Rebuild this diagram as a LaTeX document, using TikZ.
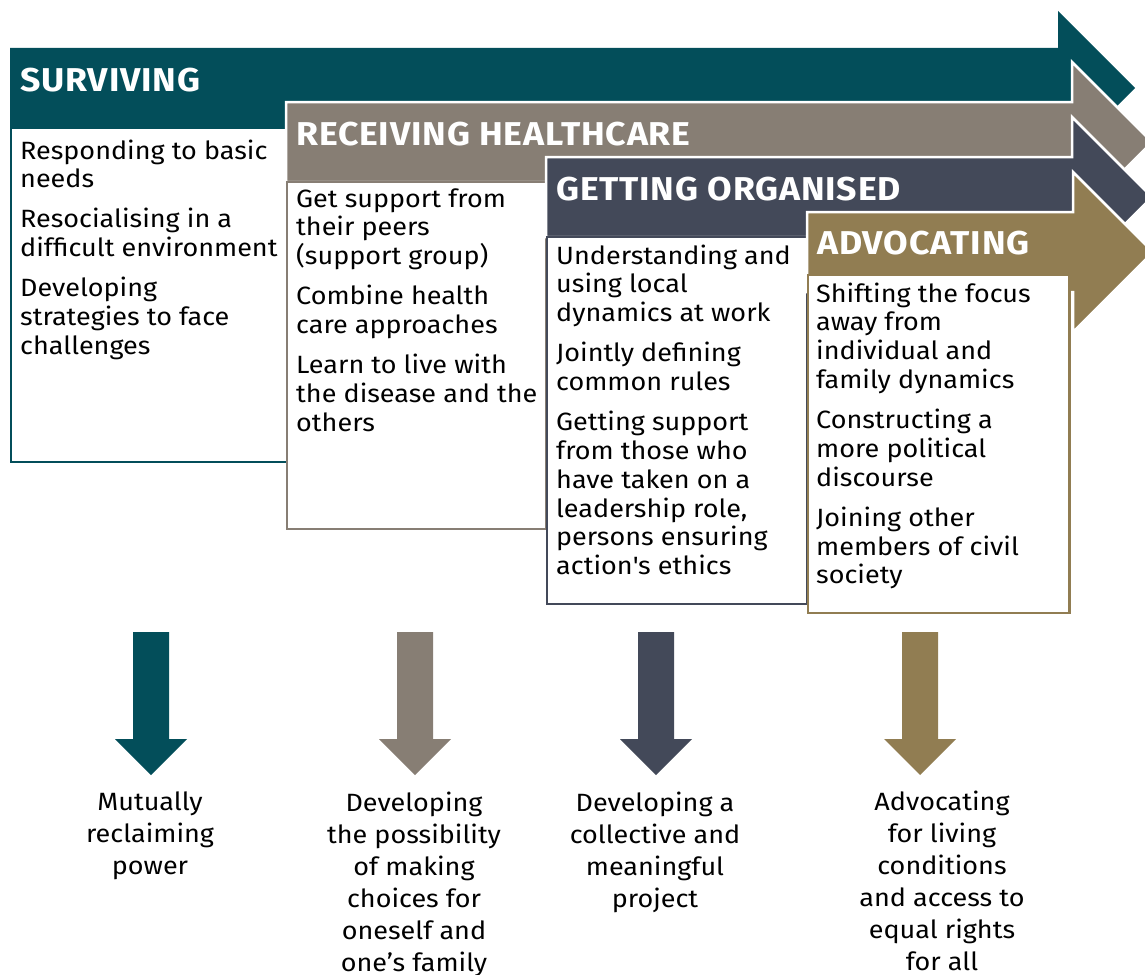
\documentclass[tikz,border=0pt]{standalone}
\usepackage{fontspec}
\setmainfont{Fira Sans}[FakeStretch=1.08]
\newfontfamily\hdrfont{Fira Sans}[FakeStretch=1.08, LetterSpace=2.5]
\definecolor{cteal}{HTML}{034E5A}
\definecolor{ctaupe}{HTML}{877E74}
\definecolor{cslate}{HTML}{434959}
\definecolor{cgold}{HTML}{917D52}
\newcommand\boxtext[1]{\begin{minipage}[t]{300pt}\fontsize{25}{28.8}\selectfont\raggedright\setlength{\parskip}{11.3pt}#1\end{minipage}}
\newcommand\outtext[1]{\begin{minipage}[t]{260pt}\fontsize{25}{32}\selectfont\centering #1\end{minipage}}
\tikzset{
  bigarrow/.style={draw=white, line width=2.5pt, line join=miter},
  stagebox/.style={fill=white, line width=2.5pt},
  header/.style={anchor=base west, inner sep=0pt, text=white, font=\hdrfont\fontsize{33}{33}\selectfont\bfseries},
  bodytxt/.style={anchor=base west, inner sep=0pt},
  outtxt/.style={anchor=base, inner sep=0pt},
}
\newcommand\stagedown[2]{\fill[#2] (#1-18,632) -- (#1+18,632) -- (#1+18,739) -- (#1+36,739) -- (#1,775) -- (#1-36,739) -- (#1-18,739) -- cycle;}
\begin{document}
\begin{tikzpicture}[x=1pt,y=-1pt]
\useasboundingbox (0,0) rectangle (1145,974);
% stage 1
\fill[cteal] (10,48) -- (1058,48) -- (1058,11) -- (1135,88) -- (1058,165) -- (1058,128) -- (10,128) -- cycle;
\draw[stagebox, draw=cteal] (11.2,128) rectangle (287,462);
\node[header] (h1) at (20,91) {SURVIVING};
\node[bodytxt] (b1) at (20,159) {\boxtext{Responding to basic\\needs\par Resocialising in a\\difficult environment\par Developing\\strategies to face\\challenges}};
% stage 2
\filldraw[bigarrow, fill=ctaupe] (286,102) -- (1072,102) -- (1072,62) -- (1152,142) -- (1072,222) -- (1072,182) -- (286,182) -- cycle;
\draw[stagebox, draw=ctaupe] (287.2,182) rectangle (546,529);
\node[header] (h2) at (296,145) {RECEIVING HEALTHCARE};
\node[bodytxt] (b2) at (296,207) {\boxtext{Get support from\\their peers\\(support group)\par Combine health\\care approaches\par Learn to live with\\the disease and the\\others}};
% stage 3
\filldraw[bigarrow, fill=cslate] (546,157) -- (1072,157) -- (1072,117) -- (1152,197) -- (1072,277) -- (1072,237) -- (546,237) -- cycle;
\draw[stagebox, draw=cslate] (547.2,237) rectangle (807,604);
\node[header] (h3) at (556,200) {GETTING ORGANISED};
\node[bodytxt] (b3) at (556,264) {\boxtext{Understanding and\\using local\\dynamics at work\par Jointly defining\\common rules\par Getting support\\from those who\\have taken on a\\leadership role,\\persons ensuring\\action\textquotesingle s ethics}};
% stage 4
\filldraw[bigarrow, fill=cgold] (807,212) -- (1073,212) -- (1073,172) -- (1153,252) -- (1073,332) -- (1073,292) -- (807,292) -- cycle;
\draw[stagebox, draw=cgold] (808.2,275) rectangle (1069.5,613);
\node[header] (h4) at (817,254) {ADVOCATING};
\node[bodytxt] (b4) at (816,302) {\boxtext{Shifting the focus\\away from\\individual and\\family dynamics\par Constructing a\\more political\\discourse\par Joining other\\members of civil\\society}};
% down arrows
\stagedown{151}{cteal}
\stagedown{415}{ctaupe}
\stagedown{656}{cslate}
\stagedown{920}{cgold}
% outcomes
\node[outtxt] (o1) at (150,810) {\outtext{Mutually\\reclaiming\\power}};
\node[outtxt] (o2) at (414,811) {\outtext{Developing\\the possibility\\of making\\choices for\\oneself and\\one’s family}};
\node[outtxt] (o3) at (655,811) {\outtext{Developing a\\collective and\\meaningful\\project}};
\node[outtxt] (o4) at (942,810) {\outtext{Advocating\\for living\\conditions\\and access to\\equal rights\\for all}};
\end{tikzpicture}
\end{document}
